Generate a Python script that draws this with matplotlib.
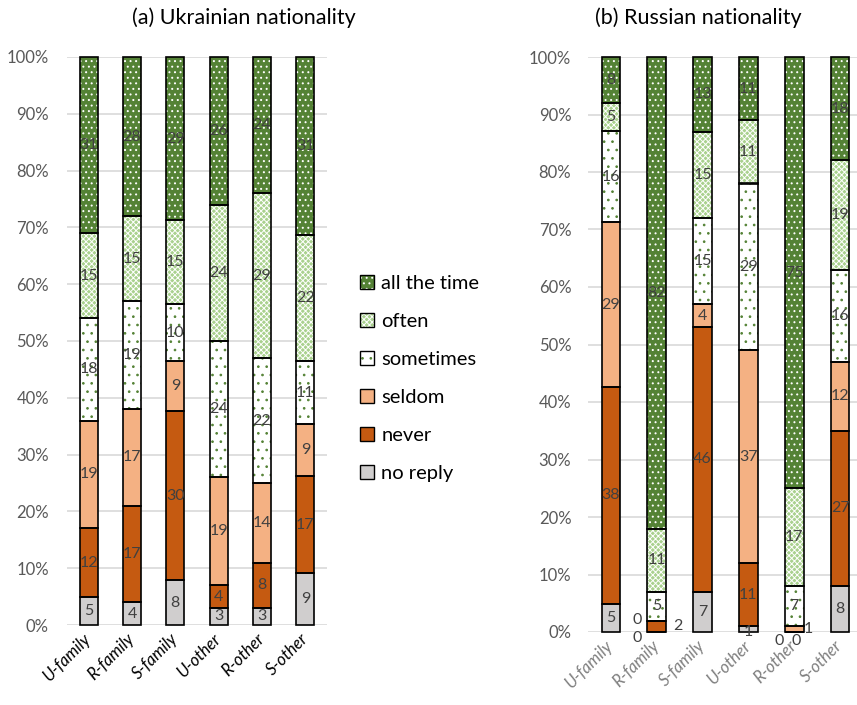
import matplotlib
matplotlib.use("Agg")
import matplotlib.pyplot as plt
from matplotlib.patches import Patch
from matplotlib.legend_handler import HandlerTuple
import numpy as np

plt.rcParams['font.family'] = ['Lato', 'DejaVu Sans']
plt.rcParams['hatch.linewidth'] = 0.7

# Données
categories = ['U-family', 'R-family', 'S-family', 'U-other', 'R-other', 'S-other']
levels = ['no reply', 'never', 'seldom', 'sometimes', 'often', 'all the time']

# Ukrainian nationality (%)
ukr_no_reply = [5, 4, 8, 3, 3, 9]
ukr_never = [12, 17, 30, 4, 8, 17]
ukr_seldom = [19, 17, 9, 19, 14, 9]
ukr_sometimes = [18, 19, 10, 24, 22, 11]
ukr_often = [15, 15, 15, 24, 29, 22]
ukr_all = [31, 28, 29, 26, 24, 31]

# Russian nationality (%)
rus_no_reply = [5, 0, 7, 1, 0, 8]
rus_never = [38, 2, 46, 11, 0, 27]
rus_seldom = [29, 0, 4, 37, 1, 12]
rus_sometimes = [16, 5, 15, 29, 7, 16]
rus_often = [5, 11, 15, 11, 17, 19]
rus_all = [8, 82, 13, 11, 75, 18]

# style: (face, hatch colour, hatch)
styles = {
    'no reply': ('#D0CECE', None, None),
    'never': ('#C55A11', None, None),
    'seldom': ('#F4B183', None, None),
    'sometimes': ('#FFFFFF', '#548235', '..'),
    'often': ('#A9D18E', '#FFFFFF', 'xxxxxx'),
    'all the time': ('#548235', '#FFFFFF', '...'),
}

# label offsets (pixels) for the tiny segments of the Russian panel
rus_offsets = {
    (1, 'no reply'): (-20, -6),
    (1, 'seldom'): (-20, 0),
    (1, 'never'): (21, 0),
    (3, 'no reply'): (0, -3),
    (4, 'no reply'): (-15, -9),
    (4, 'never'): (2, -9),
    (4, 'seldom'): (14, 0),
}

W, H = 857, 705
fig = plt.figure(figsize=(W / 100, H / 100), dpi=100)
ax1 = fig.add_axes([67 / W, 1 - 625 / H, 260 / W, 568 / H])
ax2 = fig.add_axes([588 / W, 1 - 632 / H, 269 / W, 575 / H])


def draw(ax, series, width, offsets, xlim, tickcolor, ypad):
    x = np.arange(len(categories))
    data = np.array(series, dtype=float)
    totals = data.sum(axis=0)
    frac = data / totals
    bottom = np.zeros(len(categories))
    for i, lev in enumerate(levels):
        face, hcol, hatch = styles[lev]
        ax.bar(x, frac[i], width, bottom=bottom, color=face,
               edgecolor=hcol if hcol else face, hatch=hatch, linewidth=0,
               zorder=2, clip_on=False)
        ax.bar(x, frac[i], width, bottom=bottom, fill=False,
               edgecolor='black', linewidth=1.2, zorder=3, clip_on=False)
        for j in range(len(categories)):
            dx, dy = offsets.get((j, lev), (0, 0))
            ax.annotate(str(series[i][j]), (x[j], bottom[j] + frac[i][j] / 2),
                        xytext=(dx, dy), textcoords='offset pixels',
                        ha='center', va='center', fontsize=11.5,
                        color='#404040', zorder=4, annotation_clip=False)
        bottom += frac[i]
    ax.set_xlim(*xlim)
    ax.set_ylim(0, 1)
    ax.set_yticks(np.arange(0, 1.01, 0.1))
    ax.set_yticklabels([f'{int(round(v * 100))}%' for v in np.arange(0, 1.01, 0.1)],
                       fontsize=12, color='#595959')
    ax.set_xticks(x)
    ax.set_xticklabels(categories, rotation=45, ha='right', va='center',
                       rotation_mode='anchor', fontsize=12, style='italic',
                       color=tickcolor)
    ax.tick_params(axis='both', length=0)
    ax.tick_params(axis='y', pad=ypad)
    ax.tick_params(axis='x', pad=8)
    for s in ax.spines.values():
        s.set_visible(False)
    ax.grid(axis='y', color='#D9D9D9', linewidth=1.2, zorder=0)
    ax.set_axisbelow(True)


draw(ax1, [ukr_no_reply, ukr_never, ukr_seldom, ukr_sometimes, ukr_often, ukr_all],
     0.415, {}, (-0.5, 5.5), '#000000', 13)
draw(ax2, [rus_no_reply, rus_never, rus_seldom, rus_sometimes, rus_often, rus_all],
     0.41, rus_offsets, (-0.5, 5.37), '#7F7F7F', 12)

fig.text(244 / W, 1 - 18 / H, '(a) Ukrainian nationality', ha='center', va='center',
         fontsize=15.5, color='#000000')
fig.text(698 / W, 1 - 18 / H, '(b) Russian nationality', ha='center', va='center',
         fontsize=15.5, color='#000000')

# Légende
handles = []
for lev in levels[::-1]:
    face, hcol, hatch = styles[lev]
    fillp = Patch(facecolor=face, edgecolor=hcol if hcol else face, hatch=hatch, linewidth=0)
    edge = Patch(facecolor='none', edgecolor='black', linewidth=1.0)
    handles.append((fillp, edge))
fig.legend(handles, levels[::-1], handler_map={tuple: HandlerTuple(ndivide=1)},
           loc='upper left', bbox_to_anchor=(360 / W, 1 - 275 / H), frameon=False,
           fontsize=14.5, handlelength=0.7, handleheight=0.7, handletextpad=0.35,
           labelspacing=1.04, borderaxespad=0, borderpad=0)

plt.savefig('out.png', dpi=100)
